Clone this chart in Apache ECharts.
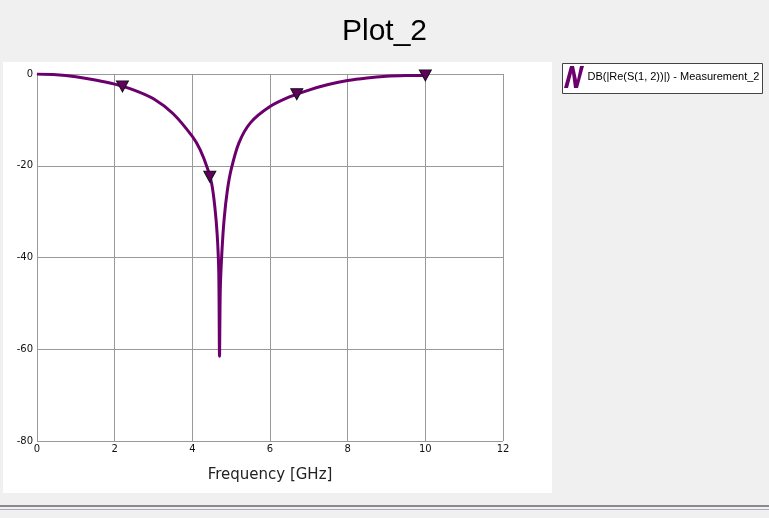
<!DOCTYPE html>
<html><head><meta charset="utf-8">
<script src="https://cdn.jsdelivr.net/npm/echarts@6/dist/echarts.min.js"></script>
<style>html,body{margin:0;padding:0;background:#f0f0f0;}#c{width:769px;height:518px;}</style>
</head><body><div id="c"></div>
<script>
// Frequency [GHz]
const freq = [0,0.5,1,1.5,2,2.5,3,3.5,4,4.2,4.4,4.5,4.58,4.64,4.68,4.70,4.72,4.76,4.82,4.9,5.0,5.2,5.5,6,6.5,7,7.5,8,8.5,9,9.5,10];
// DB(|Re(S(1,2))|)
const dbVals = [0,-0.15,-0.6,-1.3,-2.2,-3.5,-5.4,-8.6,-13.6,-16.5,-20.8,-24,-29,-35,-43,-61.5,-47,-39,-31.5,-25.5,-20.8,-15,-10.6,-7.1,-5.0,-3.5,-2.3,-1.4,-0.85,-0.5,-0.35,-0.3];
// marker positions
const markerFreq = [2.2,4.45,6.69,10];
const markerDb = [-2.7,-22.4,-4.4,-0.3];
const xTicks = {min:0,max:12,interval:2};
const yTicks = {min:-80,max:0,interval:20};
const seriesName = 'DB(|Re(S(1, 2))|) - Measurement_2';

const chart = echarts.init(document.getElementById('c'));
const lineData = freq.map((f,i)=>[f,dbVals[i]]);
const markData = markerFreq.map((f,i)=>[f,markerDb[i]]);
chart.setOption({
  backgroundColor:'#f0f0f0',
  animation:false,
  title:{text:'Plot_2',left:'center',top:12,textStyle:{fontFamily:'Liberation Sans',fontSize:30,fontWeight:'normal',color:'#000'}},
  graphic:[
    {type:'rect',shape:{x:3,y:62,width:549,height:431},style:{fill:'#fff'},z:-10},
    {type:'rect',shape:{x:0,y:505,width:769,height:2},style:{fill:'#8a8a8a'},z:-10},
    {type:'rect',shape:{x:0,y:509,width:769,height:1},style:{fill:'#a8aac4'},z:-10},
    {type:'rect',shape:{x:562.5,y:63.5,width:200,height:30},style:{fill:'#fff',stroke:'#444',lineWidth:1},z:-5}
  ],
  legend:{left:564,top:66,padding:0,itemGap:0,itemWidth:21,itemHeight:22,
    data:[{name:seriesName,icon:'path://M0,22 L6,0 L10,0 L13,14 L16,0 L20,0 L14,22 L10,22 L8,7 L4,22 Z'}],
    textStyle:{fontFamily:'Liberation Sans',fontSize:11,color:'#000',padding:[0,0,0,-2]}},
  grid:{left:37,top:74,right:266,bottom:77},
  xAxis:{type:'value',min:xTicks.min,max:xTicks.max,interval:xTicks.interval,
    name:'Frequency [GHz]',nameLocation:'middle',nameGap:27,
    nameTextStyle:{fontFamily:'DejaVu Sans',fontSize:15,color:'#222'},
    axisLine:{show:true,lineStyle:{color:'#999',width:1}},axisTick:{show:false},
    axisLabel:{fontFamily:'DejaVu Sans',fontSize:10,color:'#111',margin:3},
    splitLine:{show:true,lineStyle:{color:'#999',width:1}}},
  yAxis:{type:'value',min:yTicks.min,max:yTicks.max,interval:yTicks.interval,
    axisLine:{show:true,lineStyle:{color:'#999',width:1}},axisTick:{show:false},
    axisLabel:{fontFamily:'DejaVu Sans',fontSize:10,color:'#111',margin:4},
    splitLine:{show:true,lineStyle:{color:'#999',width:1}}},
  series:[
    {name:seriesName,type:'line',data:lineData,showSymbol:false,smooth:0.3,
     color:'#6b006d',lineStyle:{color:'#6b006d',width:3},z:3},
    {name:'markers',type:'scatter',data:markData,symbol:'triangle',symbolRotate:180,symbolSize:[12,11],
     itemStyle:{color:'#62005f',borderColor:'#111',borderWidth:1,opacity:1},z:4}
  ]
});
</script></body></html>
